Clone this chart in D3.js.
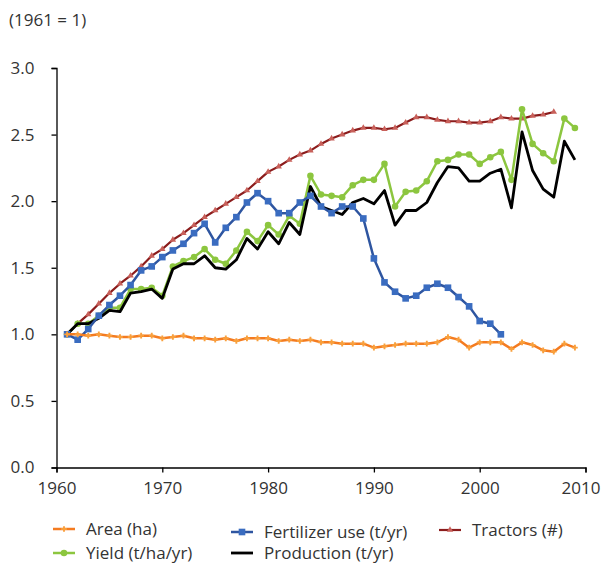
<!DOCTYPE html>
<html>
<head>
<meta charset="utf-8">
<script src="https://cdn.jsdelivr.net/npm/d3@7"></script>
<style>
  body { margin: 0; background: #fff; }
  svg text { font-family: "Open Sans", "Noto Sans", sans-serif; fill: #333; }
</style>
</head>
<body>
<svg id="chart" width="603" height="563"></svg>
<script>
// index values, 1961 = 1
var years = d3.range(1961, 2010);

var area = [1.00, 1.00, 0.99, 1.00, 0.99, 0.98, 0.98, 0.99, 0.99, 0.97,
  0.98, 0.99, 0.97, 0.97, 0.96, 0.97, 0.95, 0.97, 0.97, 0.97,
  0.95, 0.96, 0.95, 0.96, 0.94, 0.94, 0.93, 0.93, 0.93, 0.90,
  0.91, 0.92, 0.93, 0.93, 0.93, 0.94, 0.98, 0.96, 0.90, 0.94,
  0.94, 0.94, 0.89, 0.94, 0.92, 0.88, 0.87, 0.93, 0.90];

var fertilizer = [1.00, 0.96, 1.04, 1.14, 1.22, 1.29, 1.37, 1.48, 1.51, 1.58,
  1.63, 1.68, 1.76, 1.83, 1.69, 1.80, 1.88, 1.99, 2.06, 2.00,
  1.91, 1.91, 1.99, 2.04, 1.96, 1.91, 1.96, 1.96, 1.87, 1.57,
  1.39, 1.32, 1.27, 1.29, 1.35, 1.38, 1.35, 1.28, 1.21, 1.10,
  1.08, 1.00];

var tractors = [1.00, 1.08, 1.15, 1.23, 1.31, 1.38, 1.44, 1.51, 1.59, 1.64,
  1.71, 1.76, 1.82, 1.88, 1.93, 1.98, 2.03, 2.08, 2.15, 2.22,
  2.26, 2.31, 2.35, 2.38, 2.43, 2.47, 2.50, 2.53, 2.55, 2.55,
  2.54, 2.55, 2.59, 2.63, 2.63, 2.61, 2.60, 2.60, 2.59, 2.59,
  2.60, 2.63, 2.62, 2.62, 2.64, 2.65, 2.67];

var yieldIdx = [1.00, 1.08, 1.08, 1.14, 1.20, 1.20, 1.34, 1.34, 1.35, 1.29,
  1.51, 1.55, 1.58, 1.64, 1.56, 1.53, 1.63, 1.77, 1.70, 1.82,
  1.75, 1.89, 1.83, 2.19, 2.05, 2.04, 2.03, 2.12, 2.16, 2.16,
  2.28, 1.96, 2.07, 2.08, 2.15, 2.30, 2.31, 2.35, 2.35, 2.28,
  2.33, 2.37, 2.16, 2.69, 2.43, 2.36, 2.30, 2.62, 2.55];

var production = [1.00, 1.08, 1.08, 1.12, 1.18, 1.17, 1.31, 1.32, 1.34, 1.27,
  1.49, 1.53, 1.53, 1.59, 1.50, 1.49, 1.56, 1.72, 1.64, 1.77,
  1.68, 1.84, 1.75, 2.11, 1.96, 1.93, 1.90, 1.99, 2.02, 1.98,
  2.08, 1.82, 1.93, 1.93, 1.99, 2.14, 2.26, 2.25, 2.15, 2.15,
  2.21, 2.24, 1.95, 2.52, 2.23, 2.09, 2.03, 2.45, 2.31];

var xTicks = [1960, 1970, 1980, 1990, 2000, 2010];
var yTicks = [0, 0.5, 1, 1.5, 2, 2.5, 3];

var series = [
  { name: "Tractors (#)", values: tractors, line: "#8b1c1c", mark: "#c8605a", width: 2.2, shape: d3.symbolTriangle, size: 18 },
  { name: "Yield (t/ha/yr)", values: yieldIdx, line: "#8cc63f", mark: "#8cc63f", width: 2.5, shape: d3.symbolCircle, size: 34 },
  { name: "Production (t/yr)", values: production, line: "#000", mark: null, width: 2.8 },
  { name: "Fertilizer use (t/yr)", values: fertilizer, line: "#2e55a0", mark: "#3a6cc0", width: 2.5, shape: d3.symbolSquare, size: 44 },
  { name: "Area (ha)", values: area, line: "#f47b20", mark: "#f9a03c", width: 2.5, shape: d3.symbolCross, size: 18 }
];

var svg = d3.select("#chart");
var x = d3.scaleLinear().domain([1960, 2010]).range([56.5, 585.5]);
var y = d3.scaleLinear().domain([0, 3]).range([467.5, 68]);

svg.append("text")
  .attr("x", 9).attr("y", 26)
  .style("font-size", "17px")
  .text("(1961 = 1)");

var yAxis = svg.append("g")
  .attr("transform", "translate(56.5,0)")
  .call(d3.axisLeft(y).tickValues(yTicks).tickFormat(d3.format(".1f")).tickSize(5).tickPadding(17));

var xAxis = svg.append("g")
  .attr("transform", "translate(0,467.5)")
  .call(d3.axisBottom(x).tickValues(xTicks).tickFormat(d3.format("d")).tickSize(5).tickPadding(9));

[xAxis, yAxis].forEach(function(g) {
  g.select(".domain").attr("stroke", "#000").attr("stroke-width", 1.3);
  g.selectAll(".tick line").attr("stroke", "#000").attr("stroke-width", 1.3);
  g.selectAll(".tick text").style("font-size", "17px").attr("fill", "#333");
});
// last year label is nudged left to stay inside the frame
xAxis.selectAll(".tick text").filter(function(d) { return d === 2010; }).attr("dx", -5);

var line = d3.line()
  .x(function(d) { return x(d.year); })
  .y(function(d) { return y(d.v); });

series.forEach(function(s) {
  var pts = s.values.map(function(v, i) { return { year: years[i], v: v }; });
  var g = svg.append("g");
  g.append("path")
    .datum(pts)
    .attr("fill", "none")
    .attr("stroke", s.line)
    .attr("stroke-width", s.width)
    .attr("stroke-linejoin", "round")
    .attr("d", line);
  if (s.mark) {
    g.selectAll("path.m")
      .data(pts)
      .enter().append("path")
      .attr("class", "m")
      .attr("fill", s.mark)
      .attr("transform", function(d) { return "translate(" + x(d.year) + "," + y(d.v) + ")"; })
      .attr("d", d3.symbol().type(s.shape).size(s.size));
  }
});

// legend, in the reference's reading order
var legendItems = [
  { s: series[4], x: 53, y: 529 },
  { s: series[3], x: 231, y: 532 },
  { s: series[0], x: 439, y: 530 },
  { s: series[1], x: 53, y: 553 },
  { s: series[2], x: 231, y: 553 }
];

var legend = svg.append("g");
legendItems.forEach(function(it) {
  var g = legend.append("g").attr("transform", "translate(" + it.x + "," + it.y + ")");
  g.append("line")
    .attr("x1", 0).attr("x2", 22)
    .attr("stroke", it.s.line)
    .attr("stroke-width", it.s.width);
  if (it.s.mark) {
    g.append("path")
      .attr("transform", "translate(11,0)")
      .attr("fill", it.s.mark)
      .attr("d", d3.symbol().type(it.s.shape).size(it.s.size));
  }
  g.append("text")
    .attr("x", 33).attr("dy", "0.35em")
    .style("font-size", "17px")
    .text(it.s.name);
});
</script>
</body>
</html>
